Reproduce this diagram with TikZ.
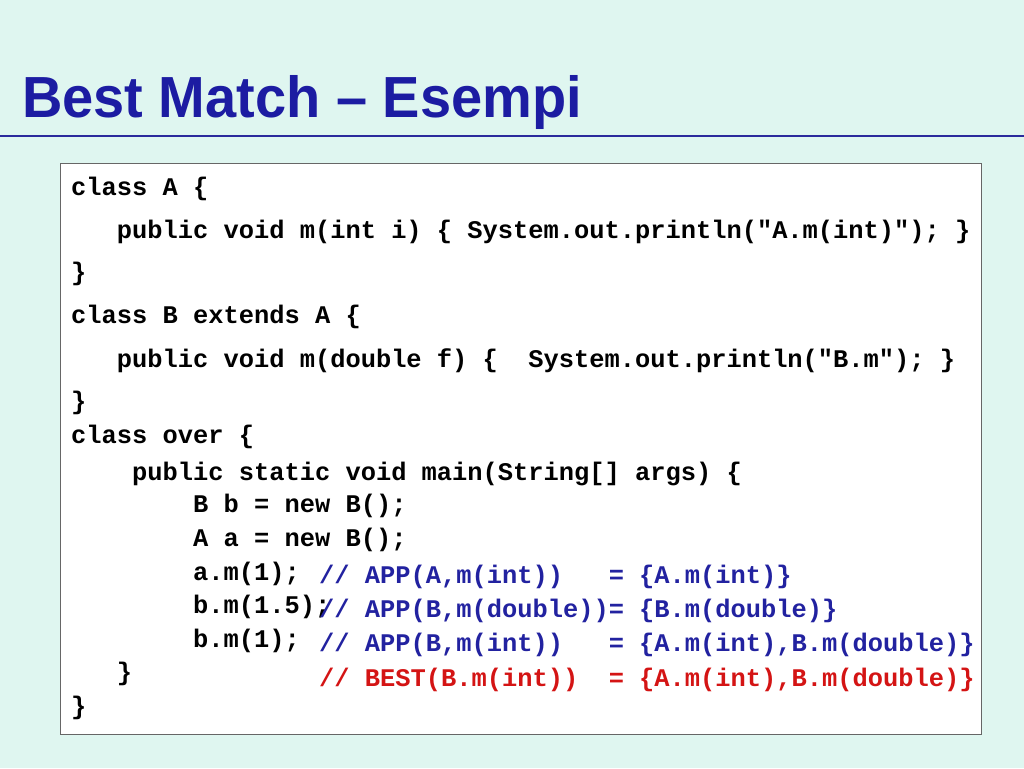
\documentclass[tikz,border=0pt]{standalone}
\usepackage{fontspec}
\usepackage{graphicx}
\setmainfont{Liberation Sans}
\setmonofont{Liberation Mono}
\definecolor{bg}{HTML}{DFF6F0}
\definecolor{titleblue}{HTML}{1C1CA2}
\definecolor{ruleblue}{HTML}{2A2A9C}
\definecolor{cmtblue}{HTML}{2222A0}
\definecolor{cmtred}{HTML}{D41414}
\definecolor{boxgray}{HTML}{666666}
\tikzset{
  code/.style={anchor=base west, inner sep=0pt, font=\fontsize{25.4}{30}\ttfamily\bfseries, text=black},
  cmtb/.style={code, text=cmtblue},
  cmtr/.style={code, text=cmtred},
  titletext/.style={anchor=base west, inner sep=0pt, font=\fontsize{58}{66}\selectfont\bfseries, text=titleblue},
}
\begin{document}
\begin{tikzpicture}[x=1pt,y=-1pt]
\useasboundingbox (0,0) rectangle (1024,768);
\fill[bg] (0,0) rectangle (1024,768);
\node[titletext] (title) at (22,117) {\scalebox{0.965}[1]{Best Match -- Esempi}};
\coordinate (rl) at (0,136);
\coordinate (rr) at (1024,136);
\draw[ruleblue, line width=2.5pt] (rl) -- (rr);
\node[draw=boxgray, line width=1.6pt, fill=white, minimum width=921pt, minimum height=571pt, inner sep=0pt, anchor=north west] (box) at (59.5,162.5) {};
\node[code] (l1) at (71,195) {class A \{};
\node[code] (l2) at (71,238) {~~~public void m(int i) \{ System.out.println("A.m(int)"); \}};
\node[code] (l3) at (71,280) {\}};
\node[code] (l4) at (71,323) {class B extends A \{};
\node[code] (l5) at (71,367) {~~~public void m(double f) \{~~System.out.println("B.m"); \}};
\node[code] (l6) at (71,409) {\}};
\node[code] (l7) at (71,443) {class over \{};
\node[code] (l8) at (71,480) {~~~~public static void main(String[] args) \{};
\node[code] (l9) at (71,512) {~~~~~~~~B b = new B();};
\node[code] (l10) at (71,546) {~~~~~~~~A a = new B();};
\node[code] (l11) at (71,580) {~~~~~~~~a.m(1);};
\node[code] (l12) at (71,613) {~~~~~~~~b.m(1.5);};
\node[code] (l13) at (71,647) {~~~~~~~~b.m(1);};
\node[code] (l14) at (71,680) {~~~\}};
\node[code] (l15) at (71,714) {\}};
\node[cmtb] (c1) at (319,583) {// APP(A,m(int))~~~= \{A.m(int)\}};
\node[cmtb] (c2) at (319,617) {// APP(B,m(double))= \{B.m(double)\}};
\node[cmtb] (c3) at (319,651) {// APP(B,m(int))~~~= \{A.m(int),B.m(double)\}};
\node[cmtr] (c4) at (319,686) {// BEST(B.m(int))~~= \{A.m(int),B.m(double)\}};
\end{tikzpicture}
\end{document}
